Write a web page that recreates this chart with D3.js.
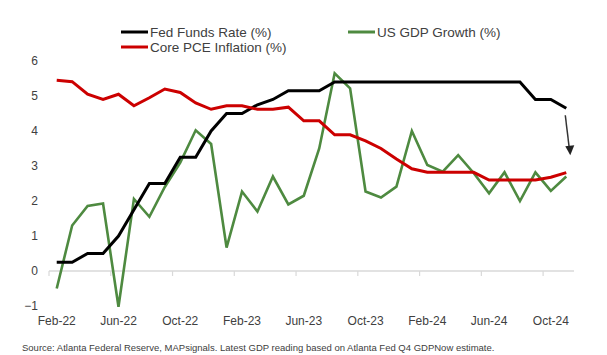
<!DOCTYPE html>
<html>
<head>
<meta charset="utf-8">
<script src="https://cdn.jsdelivr.net/npm/d3@7/dist/d3.min.js"></script>
<style>
  html, body { margin: 0; padding: 0; background: #fff; }
  svg { display: block; font-family: "Liberation Sans", Arial, sans-serif; }
</style>
</head>
<body>
<svg id="chart" width="607" height="355"></svg>
<script>
// ---- data ----
const months = ["Feb-22","Mar-22","Apr-22","May-22","Jun-22","Jul-22","Aug-22","Sep-22","Oct-22","Nov-22","Dec-22",
  "Jan-23","Feb-23","Mar-23","Apr-23","May-23","Jun-23","Jul-23","Aug-23","Sep-23","Oct-23","Nov-23","Dec-23",
  "Jan-24","Feb-24","Mar-24","Apr-24","May-24","Jun-24","Jul-24","Aug-24","Sep-24","Oct-24","Nov-24"];
const fedFunds = [0.25,0.25,0.5,0.5,1.0,1.75,2.5,2.5,3.25,3.25,4.0,4.5,4.5,4.75,4.9,5.15,5.15,5.15,5.4,5.4,5.4,5.4,5.4,
  5.4,5.4,5.4,5.4,5.4,5.4,5.4,5.4,4.9,4.9,4.65];
const corePCE = [5.45,5.41,5.05,4.9,5.05,4.72,4.95,5.2,5.1,4.8,4.62,4.72,4.72,4.62,4.62,4.68,4.29,4.29,3.89,3.89,3.72,3.5,3.2,
  2.92,2.82,2.82,2.82,2.82,2.6,2.6,2.6,2.6,2.68,2.81];
const gdpGrowth = [-0.5,1.3,1.86,1.93,-1.02,2.06,1.55,2.4,3.1,4.02,3.63,0.67,2.27,1.7,2.7,1.9,2.15,3.5,5.65,5.22,2.27,2.1,2.41,
  4.0,3.03,2.84,3.31,2.8,2.22,2.82,2.0,2.82,2.29,2.7];
const yTicks = [-1,0,1,2,3,4,5,6];
const xTickLabels = ["Feb-22","Jun-22","Oct-22","Feb-23","Jun-23","Oct-23","Feb-24","Jun-24","Oct-24"];
const seriesNames = ["Fed Funds Rate (%)","Core PCE Inflation (%)","US GDP Growth (%)"];
const sourceText = "Source: Atlanta Federal Reserve, MAPsignals. Latest GDP reading based on Atlanta Fed Q4 GDPNow estimate.";

// ---- layout ----
const svg = d3.select("#chart");
const left = 49, right = 574;
const x = d3.scaleBand().domain(months).range([left, right]).padding(0);
const y = d3.scaleLinear().domain([-1, 6]).range([306, 61]);
const cx = d => x(d) + x.bandwidth() / 2;
const textColor = "#404040";

// zero line
svg.append("line")
  .attr("x1", left).attr("x2", right)
  .attr("y1", y(0)).attr("y2", y(0))
  .attr("stroke", "#d9d9d9").attr("stroke-width", 1.5);

// tick marks at category boundaries every 4 months
const boundaryIdx = d3.range(0, months.length, 4);
svg.append("g").selectAll("line").data(boundaryIdx).join("line")
  .attr("x1", i => x(months[i])).attr("x2", i => x(months[i]))
  .attr("y1", y(0)).attr("y2", y(0) + 5)
  .attr("stroke", "#d9d9d9").attr("stroke-width", 1.2);

// x axis labels (low position)
const xAxis = svg.append("g")
  .attr("transform", `translate(0,${y(-1)})`)
  .call(d3.axisBottom(x).tickValues(xTickLabels).tickSize(0).tickPadding(10));
xAxis.select(".domain").remove();
xAxis.selectAll("text").attr("fill", textColor).style("font-size", "12px")
  .style("font-family", "'Liberation Sans', Arial, sans-serif");

// y axis labels
const yAxis = svg.append("g")
  .attr("transform", `translate(${left},0)`)
  .call(d3.axisLeft(y).tickValues(yTicks).tickFormat(d3.format("d")).tickSize(0).tickPadding(11));
yAxis.select(".domain").remove();
yAxis.selectAll("text").attr("fill", textColor).style("font-size", "12px")
  .style("font-family", "'Liberation Sans', Arial, sans-serif");

// lines
const line = d3.line().x((d, i) => cx(months[i])).y(d => y(d)).curve(d3.curveLinear);
const series = [
  {name: seriesNames[2], values: gdpGrowth, color: "#4e8a40", width: 2.6},
  {name: seriesNames[0], values: fedFunds, color: "#000000", width: 3},
  {name: seriesNames[1], values: corePCE, color: "#cc0000", width: 3}
];
svg.append("g").selectAll("path").data(series).join("path")
  .attr("d", s => line(s.values))
  .attr("fill", "none")
  .attr("stroke", s => s.color)
  .attr("stroke-width", s => s.width)
  .attr("stroke-linejoin", "miter");

// arrow annotation under last fed funds point
const defs = svg.append("defs");
defs.append("marker").attr("id", "ah").attr("viewBox", "0 0 10 10")
  .attr("refX", 5).attr("refY", 10).attr("markerWidth", 9).attr("markerHeight", 9)
  .attr("markerUnits", "userSpaceOnUse").attr("orient", "auto-start-reverse")
  .append("path").attr("d", "M0,0 L10,0 L5,10 Z").attr("fill", "#222");
const lastX = cx(months[months.length - 1]);
const lastY = y(fedFunds[fedFunds.length - 1]);
svg.append("line")
  .attr("x1", lastX - 1).attr("y1", lastY + 7)
  .attr("x2", lastX + 3).attr("y2", lastY + 40)
  .attr("stroke", "#333").attr("stroke-width", 1.5);
svg.append("path")
  .attr("d", `M${lastX - 1},${lastY + 38} L${lastX + 8},${lastY + 37} L${lastX + 4},${lastY + 47} Z`)
  .attr("fill", "#222");

// legend
const legendItems = [
  {name: seriesNames[0], color: "#000000", x: 121, y: 32},
  {name: seriesNames[1], color: "#cc0000", x: 121, y: 47},
  {name: seriesNames[2], color: "#4e8a40", x: 348, y: 32}
];
const lg = svg.append("g").selectAll("g").data(legendItems).join("g")
  .attr("transform", d => `translate(${d.x},${d.y})`);
lg.append("line").attr("x1", 0).attr("x2", 27).attr("y1", 0).attr("y2", 0)
  .attr("stroke", d => d.color).attr("stroke-width", 3);
lg.append("text").attr("x", 29).attr("y", 0).attr("dy", "0.35em")
  .attr("fill", textColor).style("font-size", "13.5px")
  .text(d => d.name);

// source
svg.append("text").attr("x", 22).attr("y", 351)
  .attr("fill", textColor).style("font-size", "9.5px")
  .text(sourceText);
</script>
</body>
</html>
